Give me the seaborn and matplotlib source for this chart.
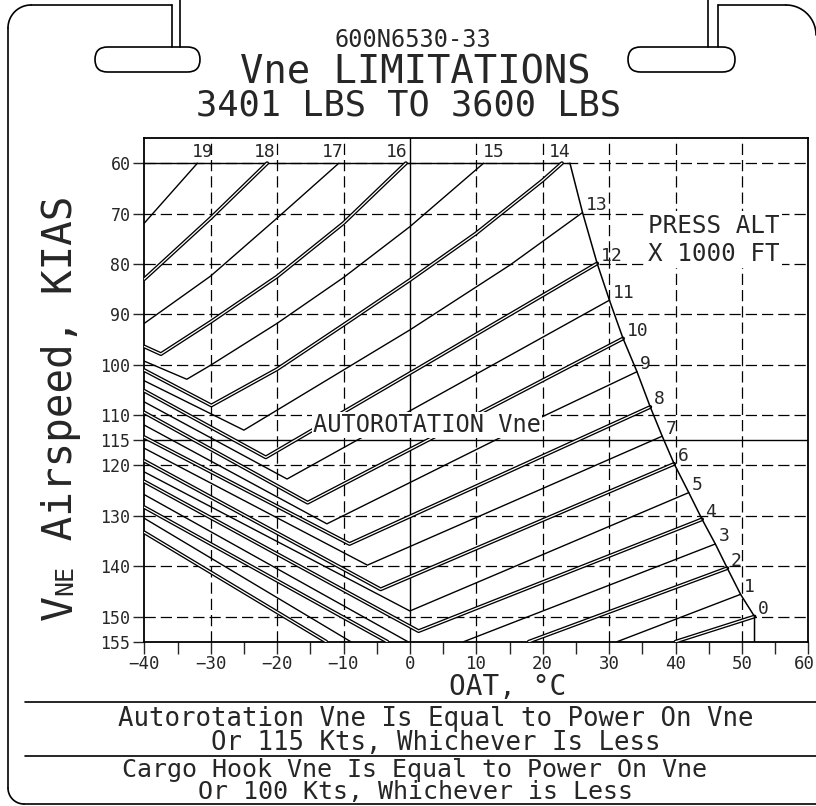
import numpy as np
import pandas as pd
import matplotlib
matplotlib.use("Agg")
import matplotlib.pyplot as plt
import seaborn as sns
from matplotlib.lines import Line2D
from matplotlib.patches import FancyBboxPatch
from matplotlib.transforms import Affine2D, ScaledTranslation

# limit line on the right of the chart, top to bottom (OAT degC, KIAS)
limit_oat = [24.1, 26.0, 28.2, 30.05, 32.1, 34.2, 36.2, 38.0, 39.8, 42.0, 44.0, 46.0, 47.8, 49.8, 51.9, 51.9]
limit_kias = [60.0, 69.8, 79.9, 87.2, 94.8, 101.4, 108.4, 114.2, 119.7, 125.4, 130.7, 135.6, 140.4, 145.6, 150.0, 155.0]

# press alt curves (x 1000 ft). 0-13 finish on the limit line,
# 0-3 dip below 155 kts so they come in two pieces
alt_0 = [[(-40, 133.3), (-12.6, 155.0)], [(40.0, 155.0)]]
alt_1 = [[(-40, 130.5), (-8.9, 155.0)], [(31.2, 155.0)]]
alt_2 = [[(-40, 128.3), (-3.4, 155.0)], [(17.9, 155.0)]]
alt_3 = [[(-40, 125.8), (-0.3, 155.0)], [(8.1, 155.0)]]
alt_4 = [[(-40, 123.2), (1.3, 152.9)]]
alt_5 = [[(-40, 121.3), (0.0, 148.9)]]
alt_6 = [[(-40, 119.1), (-4.4, 144.6)]]
alt_7 = [[(-40, 116.6), (-6.4, 139.8)]]
alt_8 = [[(-40, 114.4), (-9.1, 135.6)]]
alt_9 = [[(-40, 112.0), (-12.5, 131.6), (20.0, 110.3)]]
alt_10 = [[(-40, 109.5), (-15.4, 127.4)]]
alt_11 = [[(-40, 107.4), (-18.5, 122.7)]]
alt_12 = [[(-40, 105.2), (-21.7, 118.4), (0.0, 101.7)]]
alt_13 = [[(-40, 103.2), (-25.0, 113.0), (0.0, 93.1), (15.1, 80.2)]]
alt_14 = [[(-40, 101.1), (-29.9, 108.1), (-20, 100.9), (-10, 92.1), (0, 83.2), (10, 73.9), (20, 63.4), (22.9, 60.0)]]
alt_15 = [[(-40, 99.3), (-33.6, 102.9), (-30, 100.1), (-20, 91.8), (-10, 82.7), (0, 72.6), (11.1, 60.0)]]
alt_16 = [[(-40, 96.4), (-37.5, 97.9), (-30, 91.5), (-20, 82.5), (-10, 71.9), (-0.6, 60.0)]]
alt_17 = [[(-40, 91.8), (-30, 82.4), (-20, 70.9), (-10.7, 60.0)]]
alt_18 = [[(-40, 83.0), (-30, 70.9), (-21.5, 60.0)]]
alt_19 = [[(-40, 71.9), (-32.0, 60.0)]]

curves = [alt_0, alt_1, alt_2, alt_3, alt_4, alt_5, alt_6, alt_7, alt_8, alt_9,
          alt_10, alt_11, alt_12, alt_13, alt_14, alt_15, alt_16, alt_17, alt_18, alt_19]

# where the 14..19 numbers sit along the 60 kt line
top_label_oat = [22.6, 12.6, -2.0, -11.6, -21.8, -31.2]

ytick_kias = [60, 70, 80, 90, 100, 110, 115, 120, 130, 140, 150, 155]
grid_kias = [60, 70, 80, 90, 100, 110, 120, 130, 140, 150]
grid_oat = [-30, -20, -10, 10, 20, 30, 40, 50]

sns.set_style("ticks")
plt.rcParams['font.family'] = ['DejaVu Sans Mono', 'DejaVu Sans']
plt.rcParams['axes.linewidth'] = 1.3

# build long table, one unit per drawn piece
rows = []
for alt, segs in enumerate(curves):
    segs = [list(s) for s in segs]
    if alt <= 13:
        segs[-1].append((limit_oat[14 - alt], limit_kias[14 - alt]))
    for k, seg in enumerate(segs):
        for t, v in seg:
            rows.append({"alt": alt, "unit": "%d_%d" % (alt, k), "oat": t, "kias": v})
df = pd.DataFrame(rows)

W, H = 816, 806
fig = plt.figure(figsize=(W / 100, H / 100), dpi=100)
px = Affine2D().scale(1 / W, -1 / H).translate(0, 1) + fig.transFigure

ax = fig.add_axes([144.3 / W, (H - 641.7) / H, 664 / W, (641.7 - 138) / H])
ax.set_xlim(-40, 60)
ax.set_ylim(155, 55)

dash = (0, (9, 4))
for t in grid_oat:
    ax.axvline(t, color='k', lw=0.9, ls=dash, zorder=1)
for v in grid_kias:
    ax.axhline(v, color='k', lw=0.9, ls=dash, zorder=1)
ax.axvline(0, color='k', lw=1.0, zorder=1)
ax.axhline(115, color='k', lw=1.0, zorder=1)
ax.hlines(limit_kias[0], -40, limit_oat[0], color='k', lw=1.0, zorder=2)

odd = df[df.alt % 2 == 1]
even = df[df.alt % 2 == 0]
sns.lineplot(data=odd, x='oat', y='kias', units='unit', estimator=None, sort=False,
             color='k', lw=1.0, legend=False, ax=ax, zorder=3)
# even altitudes are drawn as double lines
sns.lineplot(data=even, x='oat', y='kias', units='unit', estimator=None, sort=False,
             color='k', lw=2.8, legend=False, ax=ax, zorder=3)
sns.lineplot(data=even, x='oat', y='kias', units='unit', estimator=None, sort=False,
             color='white', lw=0.9, legend=False, ax=ax, zorder=3)
sns.lineplot(x=limit_oat, y=limit_kias, sort=False, estimator=None,
             color='k', lw=1.1, legend=False, ax=ax, zorder=3)

# altitude numbers
for alt in range(14):
    t, v = limit_oat[14 - alt], limit_kias[14 - alt]
    ax.text(t + 0.5, v + 0.3, str(alt), fontsize=13, ha='left', va='bottom', zorder=5)
for alt, t in zip(range(14, 20), top_label_oat):
    ax.text(t, 59.6, str(alt), fontsize=13, ha='center', va='bottom', zorder=5)

ax.text(-14.6, 114.4, "AUTOROTATION Vne", fontsize=17, ha='left', va='bottom', zorder=6,
        bbox=dict(boxstyle='square,pad=0.05', fc='white', ec='none'))
ax.text(45.8, 75.2, "PRESS ALT\nX 1000 FT", fontsize=17.5, ha='center', va='center',
        linespacing=1.2, zorder=6, bbox=dict(boxstyle='square,pad=0.1', fc='white', ec='none'))

ax.set_xticks(range(-40, 61, 10))
ax.set_xticks(range(-40, 61, 5), minor=True)
ax.set_yticks(ytick_kias)
ax.tick_params(axis='x', which='both', direction='out', length=8.5, width=1, labelsize=12.5, pad=1)
ax.tick_params(axis='y', direction='out', length=8, width=1, labelsize=12, pad=2)
ax.set_xlabel("")
ax.set_ylabel("")
for s in ax.spines.values():
    s.set_visible(True)
    s.set_color('k')

# last x label sits against the right edge of the placard
last = ax.get_xticklabels()[-1]
last.set_horizontalalignment('right')
last.set_transform(last.get_transform() + ScaledTranslation(7 / 100, 0, fig.dpi_scale_trans))

# titles
fig.text(413, 40, "600N6530-33", transform=px, fontsize=17, ha='center', va='center')
fig.text(415, 73, "Vne LIMITATIONS", transform=px, fontsize=28, ha='center', va='center')
fig.text(408, 106, "3401 LBS TO 3600 LBS", transform=px, fontsize=25.5, ha='center', va='center')

fig.text(508, 687, "OAT, °C", transform=px, fontsize=20, ha='center', va='center')

# notes at the bottom, two lines each
fig.text(436, 731, "Autorotation Vne Is Equal to Power On Vne\nOr 115 Kts, Whichever Is Less",
         transform=px, fontsize=18.5, ha='center', va='center', multialignment='center', linespacing=0.85)
fig.text(415, 781, "Cargo Hook Vne Is Equal to Power On Vne\nOr 100 Kts, Whichever is Less",
         transform=px, fontsize=18, ha='center', va='center', multialignment='center', linespacing=0.85)

# y label: big V, small NE, then the rest
fig.canvas.draw()
rend = fig.canvas.get_renderer()
y0 = 620
for s, size in [("V", 30), ("NE", 18), (" Airspeed, KIAS", 29.5)]:
    tt = fig.text(72, y0, s, transform=px, fontsize=size, rotation=90,
                  rotation_mode='anchor', ha='left', va='baseline')
    y0 -= tt.get_window_extent(rend).height

# placard outline
def seg(xs, ys, lw=1.2):
    fig.add_artist(Line2D(xs, ys, transform=px, color='k', lw=lw))

def arc(cx, cy, r, a0, a1):
    th = np.radians(np.linspace(a0, a1, 30))
    seg(cx + r * np.cos(th), cy + r * np.sin(th))

seg([8, 8], [28, 788])
arc(31, 28, 23, 180, 270)
seg([31, 172], [5, 5])
seg([172, 172], [5, 47])
seg([180, 180], [0, 47])
seg([708, 708], [0, 47])
seg([718, 718], [5, 47])
seg([718, 786], [5, 5])
arc(786, 35, 30, 270, 360)
arc(24, 788, 16, 90, 180)
seg([24, 816], [804, 804])
for x0, w in ((95, 105), (628, 107)):
    fig.add_artist(FancyBboxPatch((x0, 47), w, 25, boxstyle='round,pad=0,rounding_size=12.5',
                                  transform=px, fc='white', ec='k', lw=1.2))
seg([25, 816], [702, 702])
seg([25, 816], [756, 756])

fig.savefig("out.png", dpi=100)
